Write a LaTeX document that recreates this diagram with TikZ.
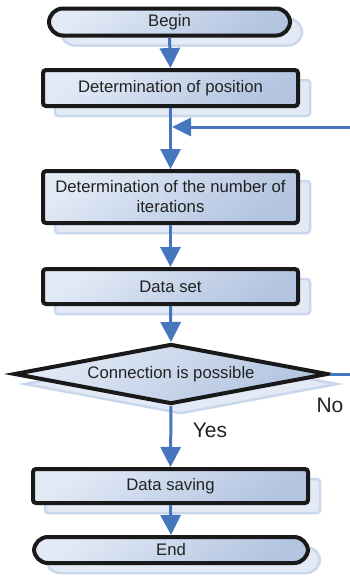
\documentclass[tikz,border=0pt]{standalone}
\usepackage{fontspec}
\setmainfont{Liberation Sans}
\usetikzlibrary{arrows.meta,shapes.geometric,shadows}
\definecolor{arrblue}{HTML}{4677BE}
\definecolor{fillA}{HTML}{E2EAF6}
\definecolor{fillB}{HTML}{B2C4E0}
\definecolor{shdraw}{HTML}{C9D7EC}
\definecolor{shfill}{HTML}{E3EAF5}
\definecolor{txt}{HTML}{222222}
\tikzset{
  shd/.style={general shadow={shadow xshift=#1, shadow yshift=-10pt, draw=shdraw, fill=shfill, line width=2.5pt}},
  shd/.default=12pt,
  boxbase/.style={draw=black!90, line width=4pt, top color=fillA, bottom color=fillB, shading angle=35,
    text=txt, font=\fontsize{16.7}{20}\selectfont, inner sep=0pt, align=center},
  procbox/.style={boxbase, rectangle, rounded corners=3pt, shd},
  termbox/.style={boxbase, rectangle, rounded corners=14pt, shd},
  decbox/.style={boxbase, diamond, shape aspect=5.2, shd=10pt},
  arr/.style={draw=arrblue, line width=3pt, -{Triangle[length=20pt,width=20pt]}},
  plainline/.style={draw=arrblue, line width=3pt},
  lbl/.style={font=\fontsize{21}{24}\selectfont, text=txt}
}
\begin{document}
\begin{tikzpicture}[x=1pt,y=-1pt]
\useasboundingbox (0,0) rectangle (349,576);
\node[termbox, minimum width=241pt, minimum height=27pt] (begin) at (169.5,22) {Begin};
\node[procbox, minimum width=255pt, minimum height=36pt] (pos) at (170.5,88) {Determination of position};
\node[procbox, minimum width=255pt, minimum height=52pt] (iter) at (170.5,197) {Determination of the number of\\iterations};
\node[procbox, minimum width=255pt, minimum height=35pt] (dset) at (170.5,286.5) {Data set};
\node[decbox, minimum width=314pt, minimum height=60pt] (dec) at (171,374) {Connection is possible};
\node[procbox, minimum width=275pt, minimum height=34pt] (save) at (170.5,486) {Data saving};
\node[termbox, minimum width=274pt, minimum height=26pt] (end) at (171,550) {End};

\coordinate (fbR) at (351,127);
\coordinate (fbJ) at (172,127);
\coordinate (noR) at (351,374);

\draw[arr] (begin.south) -- (pos.north);
\draw[arr] (pos.south) -- (iter.north);
\draw[draw=arrblue, line width=3pt, -{Triangle[length=19pt,width=18pt]}] (fbR) -- (fbJ);
\draw[arr] (iter.south) -- (dset.north);
\draw[arr] (dset.south) -- (dec.north);
\draw[arr] (dec.south) -- (save.north);
\draw[arr] (save.south) -- (end.north);
\draw[plainline] (dec.east) -- (noR);

\node[lbl] (yes) at (210,430) {Yes};
\node[lbl] (no) at (330,405) {No};
\end{tikzpicture}
\end{document}
